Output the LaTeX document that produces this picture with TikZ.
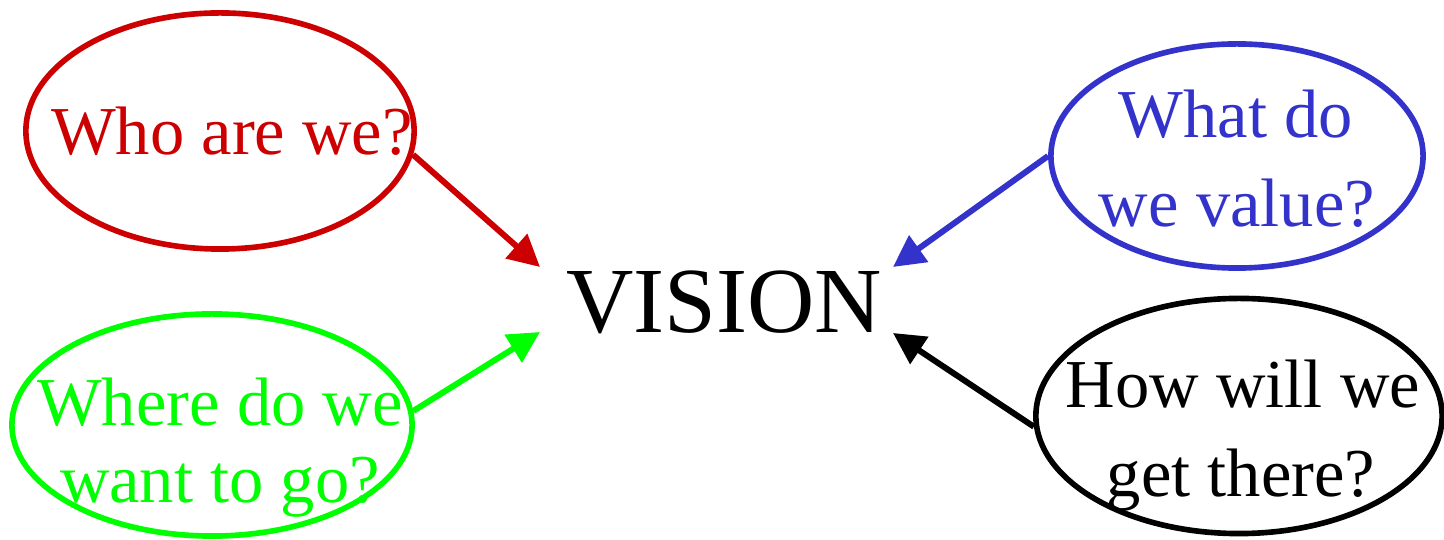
\documentclass[tikz,border=0pt]{standalone}
\usepackage{fontspec}
\setmainfont{Liberation Serif}
\usetikzlibrary{shapes.geometric,arrows.meta}
\definecolor{cred}{RGB}{204,0,0}
\definecolor{cgreen}{RGB}{0,255,0}
\definecolor{cblue}{RGB}{51,51,204}
\tikzset{
  bubble/.style={draw=#1, ellipse, line width=1.6pt, inner sep=0pt},
  qtext/.style={text=#1, anchor=base, inner sep=0pt, font=\fontsize{19.5}{23}\selectfont},
  link/.style={draw=#1, line width=1.7pt, -{Triangle[length=9pt,width=9pt]}}
}
\begin{document}
\begin{tikzpicture}[x=0.01cm, y=-0.01cm]
\useasboundingbox (0,0) rectangle (1444,540);
% ellipses
\node[bubble=cred, minimum width=3.88cm, minimum height=2.36cm] (red) at (220,131) {};
\node[bubble=cgreen, minimum width=4.0cm, minimum height=2.22cm] (green) at (212,425) {};
\node[bubble=cblue, minimum width=3.72cm, minimum height=2.24cm] (blue) at (1237,156) {};
\node[bubble=black, minimum width=4.06cm, minimum height=2.35cm] (black) at (1239,416) {};
% texts
\node[qtext=cred] (redt) at (232,155) {Who are we?};
\node[qtext=cgreen] (greent1) at (220,426) {Where do we};
\node[qtext=cgreen] (greent2) at (220,503) {want to go?};
\node[qtext=cblue] (bluet1) at (1236,138) {What do};
\node[qtext=cblue] (bluet2) at (1237,227) {we value?};
\node[qtext=black] (blackt1) at (1243,408) {How will we};
\node[qtext=black] (blackt2) at (1241,497) {get there?};
\node[anchor=base, inner sep=0pt, font=\fontsize{26.5}{30}\selectfont] (vision) at (724,333) {VISION};
% arrow tips
\coordinate (vnw) at (540,267);
\coordinate (vsw) at (540,332);
\coordinate (vne) at (893,267);
\coordinate (vse) at (893,333);
% connectors
\draw[link=cred] (red.-7) -- (vnw);
\draw[link=cgreen] (green.4) -- (vsw);
\draw[link=cblue] (blue.180) -- (vne);
\draw[link=black] (black.183) -- (vse);
\end{tikzpicture}
\end{document}
